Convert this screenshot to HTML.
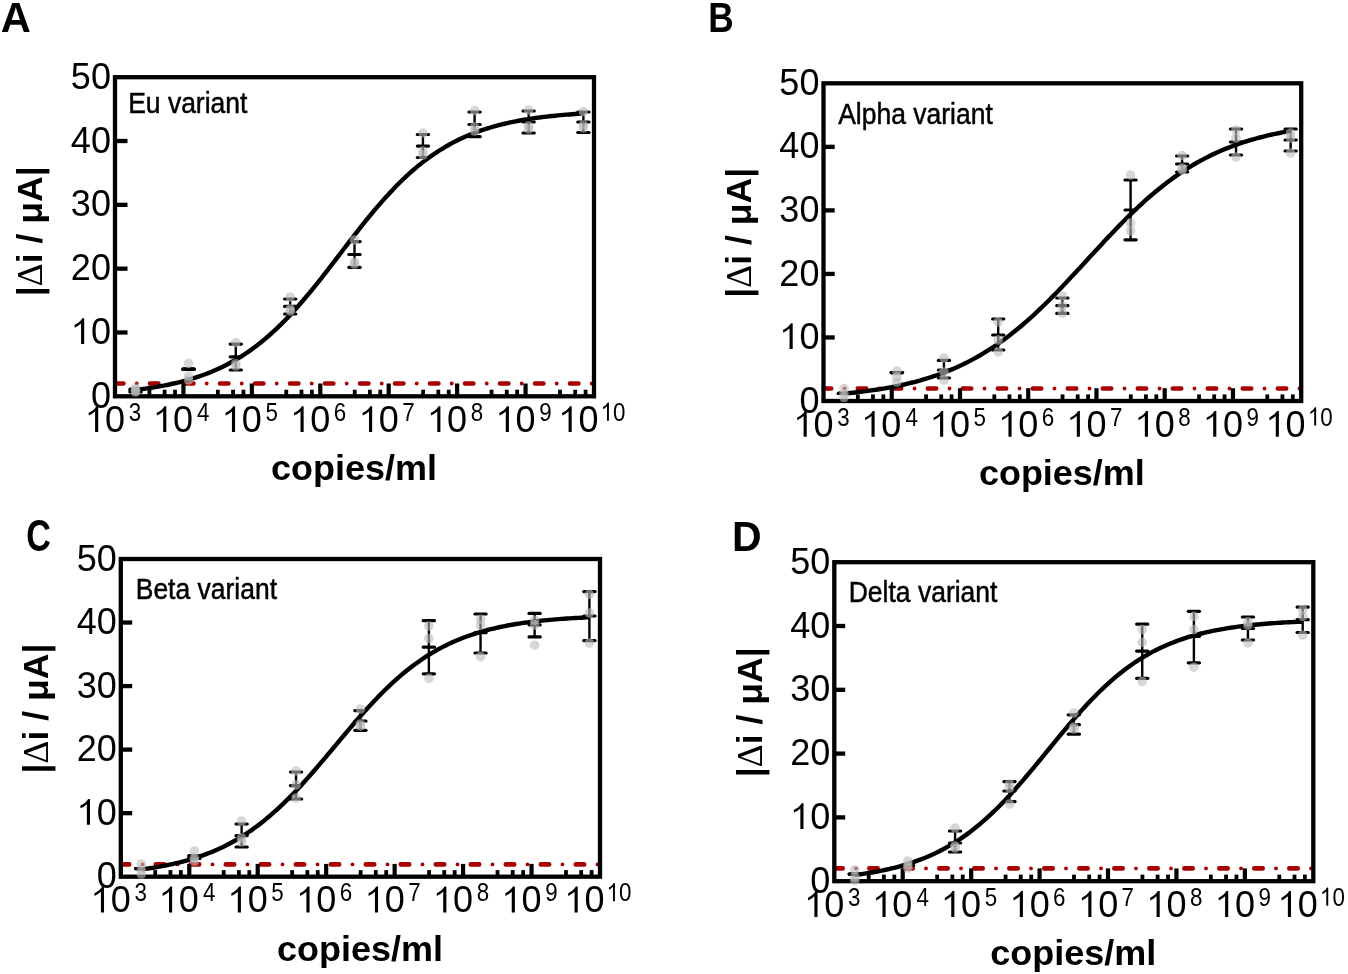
<!DOCTYPE html>
<html><head><meta charset="utf-8"><style>
html,body{margin:0;padding:0;background:#fff;}
svg{display:block;}
text{font-family:"Liberation Sans",sans-serif;fill:#000;filter:grayscale(1);}
</style></head><body>
<svg width="1348" height="974" viewBox="0 0 1348 974">
<rect width="1348" height="974" fill="#fff"/>
<g><line x1="116.00" y1="383.5" x2="593.00" y2="383.5" stroke="#a80000" stroke-width="4.6" stroke-linecap="round" stroke-dasharray="8.4 26.6" stroke-dashoffset="1"/>
<line x1="116.00" y1="383.5" x2="593.00" y2="383.5" stroke="#a80000" stroke-width="3.9" stroke-linecap="round" stroke-dasharray="0 35" stroke-dashoffset="14.3"/>
<line x1="115.00" y1="332.48" x2="127.50" y2="332.48" stroke="#000" stroke-width="4.3"/>
<line x1="115.00" y1="268.66" x2="127.50" y2="268.66" stroke="#000" stroke-width="4.3"/>
<line x1="115.00" y1="204.84" x2="127.50" y2="204.84" stroke="#000" stroke-width="4.3"/>
<line x1="115.00" y1="141.02" x2="127.50" y2="141.02" stroke="#000" stroke-width="4.3"/>
<line x1="149.42" y1="396.30" x2="149.42" y2="389.70" stroke="#000" stroke-width="3.8"/>
<line x1="164.61" y1="396.30" x2="164.61" y2="389.70" stroke="#000" stroke-width="3.8"/>
<line x1="175.01" y1="396.30" x2="175.01" y2="389.70" stroke="#000" stroke-width="3.8"/>
<line x1="217.85" y1="396.30" x2="217.85" y2="389.70" stroke="#000" stroke-width="3.8"/>
<line x1="233.04" y1="396.30" x2="233.04" y2="389.70" stroke="#000" stroke-width="3.8"/>
<line x1="243.44" y1="396.30" x2="243.44" y2="389.70" stroke="#000" stroke-width="3.8"/>
<line x1="183.43" y1="396.30" x2="183.43" y2="383.50" stroke="#000" stroke-width="4.2"/>
<line x1="286.28" y1="396.30" x2="286.28" y2="389.70" stroke="#000" stroke-width="3.8"/>
<line x1="301.47" y1="396.30" x2="301.47" y2="389.70" stroke="#000" stroke-width="3.8"/>
<line x1="311.87" y1="396.30" x2="311.87" y2="389.70" stroke="#000" stroke-width="3.8"/>
<line x1="251.86" y1="396.30" x2="251.86" y2="383.50" stroke="#000" stroke-width="4.2"/>
<line x1="354.71" y1="396.30" x2="354.71" y2="389.70" stroke="#000" stroke-width="3.8"/>
<line x1="369.90" y1="396.30" x2="369.90" y2="389.70" stroke="#000" stroke-width="3.8"/>
<line x1="380.30" y1="396.30" x2="380.30" y2="389.70" stroke="#000" stroke-width="3.8"/>
<line x1="320.29" y1="396.30" x2="320.29" y2="383.50" stroke="#000" stroke-width="4.2"/>
<line x1="423.13" y1="396.30" x2="423.13" y2="389.70" stroke="#000" stroke-width="3.8"/>
<line x1="438.32" y1="396.30" x2="438.32" y2="389.70" stroke="#000" stroke-width="3.8"/>
<line x1="448.73" y1="396.30" x2="448.73" y2="389.70" stroke="#000" stroke-width="3.8"/>
<line x1="388.71" y1="396.30" x2="388.71" y2="383.50" stroke="#000" stroke-width="4.2"/>
<line x1="491.56" y1="396.30" x2="491.56" y2="389.70" stroke="#000" stroke-width="3.8"/>
<line x1="506.75" y1="396.30" x2="506.75" y2="389.70" stroke="#000" stroke-width="3.8"/>
<line x1="517.15" y1="396.30" x2="517.15" y2="389.70" stroke="#000" stroke-width="3.8"/>
<line x1="457.14" y1="396.30" x2="457.14" y2="383.50" stroke="#000" stroke-width="4.2"/>
<line x1="559.99" y1="396.30" x2="559.99" y2="389.70" stroke="#000" stroke-width="3.8"/>
<line x1="575.18" y1="396.30" x2="575.18" y2="389.70" stroke="#000" stroke-width="3.8"/>
<line x1="585.58" y1="396.30" x2="585.58" y2="389.70" stroke="#000" stroke-width="3.8"/>
<line x1="525.57" y1="396.30" x2="525.57" y2="383.50" stroke="#000" stroke-width="4.2"/>
<rect x="115.00" y="77.20" width="479.00" height="319.10" fill="none" stroke="#000" stroke-width="4.3"/>
<line x1="135.53" y1="389" x2="135.53" y2="392" stroke="#000" stroke-width="2.4"/>
<line x1="129.93" y1="389" x2="141.13" y2="389" stroke="#000" stroke-width="3.2" stroke-linecap="round"/>
<line x1="129.93" y1="390.5" x2="141.13" y2="390.5" stroke="#000" stroke-width="3.2" stroke-linecap="round"/>
<line x1="129.93" y1="392" x2="141.13" y2="392" stroke="#000" stroke-width="3.2" stroke-linecap="round"/>
<line x1="188.56" y1="369.2" x2="188.56" y2="369.2" stroke="#000" stroke-width="2.4"/>
<line x1="182.96" y1="369.2" x2="194.16" y2="369.2" stroke="#000" stroke-width="3.2" stroke-linecap="round"/>
<line x1="182.96" y1="369.2" x2="194.16" y2="369.2" stroke="#000" stroke-width="3.2" stroke-linecap="round"/>
<line x1="182.96" y1="369.2" x2="194.16" y2="369.2" stroke="#000" stroke-width="3.2" stroke-linecap="round"/>
<line x1="235.78" y1="344.1" x2="235.78" y2="370" stroke="#000" stroke-width="2.4"/>
<line x1="230.18" y1="344.1" x2="241.38" y2="344.1" stroke="#000" stroke-width="3.2" stroke-linecap="round"/>
<line x1="230.18" y1="356.8" x2="241.38" y2="356.8" stroke="#000" stroke-width="3.2" stroke-linecap="round"/>
<line x1="230.18" y1="370" x2="241.38" y2="370" stroke="#000" stroke-width="3.2" stroke-linecap="round"/>
<line x1="290.18" y1="299" x2="290.18" y2="314" stroke="#000" stroke-width="2.4"/>
<line x1="284.58" y1="299" x2="295.78" y2="299" stroke="#000" stroke-width="3.2" stroke-linecap="round"/>
<line x1="284.58" y1="306.4" x2="295.78" y2="306.4" stroke="#000" stroke-width="3.2" stroke-linecap="round"/>
<line x1="284.58" y1="314" x2="295.78" y2="314" stroke="#000" stroke-width="3.2" stroke-linecap="round"/>
<line x1="354.50" y1="241.6" x2="354.50" y2="267.4" stroke="#000" stroke-width="2.4"/>
<line x1="348.90" y1="241.6" x2="360.10" y2="241.6" stroke="#000" stroke-width="3.2" stroke-linecap="round"/>
<line x1="348.90" y1="254.5" x2="360.10" y2="254.5" stroke="#000" stroke-width="3.2" stroke-linecap="round"/>
<line x1="348.90" y1="267.4" x2="360.10" y2="267.4" stroke="#000" stroke-width="3.2" stroke-linecap="round"/>
<line x1="422.93" y1="134.5" x2="422.93" y2="157.5" stroke="#000" stroke-width="2.4"/>
<line x1="417.33" y1="134.5" x2="428.53" y2="134.5" stroke="#000" stroke-width="3.2" stroke-linecap="round"/>
<line x1="417.33" y1="146.1" x2="428.53" y2="146.1" stroke="#000" stroke-width="3.2" stroke-linecap="round"/>
<line x1="417.33" y1="157.5" x2="428.53" y2="157.5" stroke="#000" stroke-width="3.2" stroke-linecap="round"/>
<line x1="474.59" y1="112" x2="474.59" y2="136.7" stroke="#000" stroke-width="2.4"/>
<line x1="468.99" y1="112" x2="480.19" y2="112" stroke="#000" stroke-width="3.2" stroke-linecap="round"/>
<line x1="468.99" y1="124.5" x2="480.19" y2="124.5" stroke="#000" stroke-width="3.2" stroke-linecap="round"/>
<line x1="468.99" y1="136.7" x2="480.19" y2="136.7" stroke="#000" stroke-width="3.2" stroke-linecap="round"/>
<line x1="528.65" y1="111" x2="528.65" y2="133" stroke="#000" stroke-width="2.4"/>
<line x1="523.05" y1="111" x2="534.25" y2="111" stroke="#000" stroke-width="3.2" stroke-linecap="round"/>
<line x1="523.05" y1="122" x2="534.25" y2="122" stroke="#000" stroke-width="3.2" stroke-linecap="round"/>
<line x1="523.05" y1="133" x2="534.25" y2="133" stroke="#000" stroke-width="3.2" stroke-linecap="round"/>
<line x1="583.39" y1="112" x2="583.39" y2="132.5" stroke="#000" stroke-width="2.4"/>
<line x1="577.79" y1="112" x2="588.99" y2="112" stroke="#000" stroke-width="3.2" stroke-linecap="round"/>
<line x1="577.79" y1="122" x2="588.99" y2="122" stroke="#000" stroke-width="3.2" stroke-linecap="round"/>
<line x1="577.79" y1="132.5" x2="588.99" y2="132.5" stroke="#000" stroke-width="3.2" stroke-linecap="round"/>
<path d="M135.53,389.89 L138.35,389.55 L141.16,389.19 L143.98,388.82 L146.80,388.42 L149.61,388.01 L152.43,387.58 L155.25,387.12 L158.06,386.64 L160.88,386.14 L163.70,385.62 L166.51,385.07 L169.33,384.49 L172.15,383.88 L174.96,383.25 L177.78,382.58 L180.60,381.89 L183.41,381.16 L186.23,380.39 L189.05,379.59 L191.86,378.76 L194.68,377.88 L197.50,376.96 L200.31,376.01 L203.13,375.01 L205.95,373.96 L208.76,372.87 L211.58,371.73 L214.40,370.54 L217.21,369.30 L220.03,368.00 L222.85,366.65 L225.66,365.25 L228.48,363.79 L231.30,362.27 L234.12,360.68 L236.93,359.04 L239.75,357.33 L242.57,355.56 L245.38,353.72 L248.20,351.81 L251.02,349.83 L253.83,347.79 L256.65,345.67 L259.47,343.48 L262.28,341.22 L265.10,338.88 L267.92,336.48 L270.73,334.00 L273.55,331.44 L276.37,328.82 L279.18,326.12 L282.00,323.35 L284.82,320.51 L287.63,317.60 L290.45,314.62 L293.27,311.58 L296.08,308.47 L298.90,305.30 L301.72,302.07 L304.53,298.78 L307.35,295.44 L310.17,292.04 L312.98,288.60 L315.80,285.12 L318.62,281.59 L321.43,278.03 L324.25,274.44 L327.07,270.82 L329.89,267.17 L332.70,263.51 L335.52,259.84 L338.34,256.15 L341.15,252.47 L343.97,248.78 L346.79,245.10 L349.60,241.43 L352.42,237.78 L355.24,234.14 L358.05,230.54 L360.87,226.96 L363.69,223.41 L366.50,219.90 L369.32,216.44 L372.14,213.02 L374.95,209.65 L377.77,206.33 L380.59,203.07 L383.40,199.87 L386.22,196.72 L389.04,193.64 L391.85,190.63 L394.67,187.68 L397.49,184.81 L400.30,182.00 L403.12,179.26 L405.94,176.60 L408.75,174.00 L411.57,171.49 L414.39,169.04 L417.20,166.67 L420.02,164.37 L422.84,162.14 L425.65,159.98 L428.47,157.90 L431.29,155.88 L434.11,153.94 L436.92,152.06 L439.74,150.25 L442.56,148.51 L445.37,146.83 L448.19,145.22 L451.01,143.66 L453.82,142.17 L456.64,140.73 L459.46,139.35 L462.27,138.03 L465.09,136.76 L467.91,135.55 L470.72,134.38 L473.54,133.26 L476.36,132.19 L479.17,131.17 L481.99,130.19 L484.81,129.25 L487.62,128.35 L490.44,127.49 L493.26,126.67 L496.07,125.89 L498.89,125.14 L501.71,124.43 L504.52,123.74 L507.34,123.09 L510.16,122.47 L512.97,121.88 L515.79,121.31 L518.61,120.78 L521.42,120.26 L524.24,119.77 L527.06,119.31 L529.88,118.86 L532.69,118.44 L535.51,118.03 L538.33,117.65 L541.14,117.28 L543.96,116.93 L546.78,116.60 L549.59,116.29 L552.41,115.98 L555.23,115.70 L558.04,115.43 L560.86,115.17 L563.68,114.92 L566.49,114.68 L569.31,114.46 L572.13,114.25 L574.94,114.05 L577.76,113.85 L580.58,113.67 L583.39,113.50" fill="none" stroke="#000" stroke-width="4.4" stroke-linejoin="round"/>
<circle cx="135.53" cy="388" r="4.8" fill="#bcbcbc" fill-opacity="0.6"/>
<circle cx="135.53" cy="390.5" r="4.8" fill="#bcbcbc" fill-opacity="0.6"/>
<circle cx="135.53" cy="392" r="4.8" fill="#bcbcbc" fill-opacity="0.6"/>
<circle cx="188.56" cy="363.4" r="4.8" fill="#bcbcbc" fill-opacity="0.6"/>
<circle cx="188.56" cy="376" r="4.8" fill="#bcbcbc" fill-opacity="0.6"/>
<circle cx="188.56" cy="380" r="4.8" fill="#bcbcbc" fill-opacity="0.6"/>
<circle cx="235.78" cy="342.5" r="4.8" fill="#bcbcbc" fill-opacity="0.6"/>
<circle cx="235.78" cy="363.7" r="4.8" fill="#bcbcbc" fill-opacity="0.6"/>
<circle cx="235.78" cy="366" r="4.8" fill="#bcbcbc" fill-opacity="0.6"/>
<circle cx="290.18" cy="297" r="4.8" fill="#bcbcbc" fill-opacity="0.6"/>
<circle cx="290.18" cy="311" r="4.8" fill="#bcbcbc" fill-opacity="0.6"/>
<circle cx="290.18" cy="309" r="4.8" fill="#bcbcbc" fill-opacity="0.6"/>
<circle cx="354.50" cy="240" r="4.8" fill="#bcbcbc" fill-opacity="0.6"/>
<circle cx="354.50" cy="262" r="4.8" fill="#bcbcbc" fill-opacity="0.6"/>
<circle cx="354.50" cy="264" r="4.8" fill="#bcbcbc" fill-opacity="0.6"/>
<circle cx="422.93" cy="133" r="4.8" fill="#bcbcbc" fill-opacity="0.6"/>
<circle cx="422.93" cy="151" r="4.8" fill="#bcbcbc" fill-opacity="0.6"/>
<circle cx="422.93" cy="155" r="4.8" fill="#bcbcbc" fill-opacity="0.6"/>
<circle cx="474.59" cy="110.5" r="4.8" fill="#bcbcbc" fill-opacity="0.6"/>
<circle cx="474.59" cy="127" r="4.8" fill="#bcbcbc" fill-opacity="0.6"/>
<circle cx="474.59" cy="131" r="4.8" fill="#bcbcbc" fill-opacity="0.6"/>
<circle cx="528.65" cy="110" r="4.8" fill="#bcbcbc" fill-opacity="0.6"/>
<circle cx="528.65" cy="126" r="4.8" fill="#bcbcbc" fill-opacity="0.6"/>
<circle cx="528.65" cy="129" r="4.8" fill="#bcbcbc" fill-opacity="0.6"/>
<circle cx="583.39" cy="111.5" r="4.8" fill="#bcbcbc" fill-opacity="0.6"/>
<circle cx="583.39" cy="125" r="4.8" fill="#bcbcbc" fill-opacity="0.6"/>
<circle cx="583.39" cy="128" r="4.8" fill="#bcbcbc" fill-opacity="0.6"/>
<text x="90.88" y="407.89" font-size="36">0</text>
<path transform="translate(70.87 344.07) scale(36.000 36.000)" d="M0.370,0 L0.283,0 L0.283,-0.572 Q0.205,-0.500 0.105,-0.455 L0.105,-0.535 Q0.255,-0.605 0.318,-0.716 L0.370,-0.716 Z" fill="#000"/><text x="90.88" y="344.07" font-size="36">0</text>
<text x="70.87" y="280.25" font-size="36">2</text><text x="90.88" y="280.25" font-size="36">0</text>
<text x="70.87" y="216.43" font-size="36">3</text><text x="90.88" y="216.43" font-size="36">0</text>
<text x="70.87" y="152.61" font-size="36">4</text><text x="90.88" y="152.61" font-size="36">0</text>
<text x="70.87" y="88.79" font-size="36">5</text><text x="90.88" y="88.79" font-size="36">0</text>
<path transform="translate(84.90 432.00) scale(36.000 36.000)" d="M0.370,0 L0.283,0 L0.283,-0.572 Q0.205,-0.500 0.105,-0.455 L0.105,-0.535 Q0.255,-0.605 0.318,-0.716 L0.370,-0.716 Z" fill="#000"/><text x="104.91" y="432.00" font-size="36">0</text>
<text transform="translate(128.68 420.80) scale(0.88 1)" x="0" y="0" font-size="25.4">3</text>
<path transform="translate(152.99 432.00) scale(36.000 36.000)" d="M0.370,0 L0.283,0 L0.283,-0.572 Q0.205,-0.500 0.105,-0.455 L0.105,-0.535 Q0.255,-0.605 0.318,-0.716 L0.370,-0.716 Z" fill="#000"/><text x="173.01" y="432.00" font-size="36">0</text>
<text transform="translate(197.11 420.80) scale(0.88 1)" x="0" y="0" font-size="25.4">4</text>
<path transform="translate(221.75 432.00) scale(36.000 36.000)" d="M0.370,0 L0.283,0 L0.283,-0.572 Q0.205,-0.500 0.105,-0.455 L0.105,-0.535 Q0.255,-0.605 0.318,-0.716 L0.370,-0.716 Z" fill="#000"/><text x="241.77" y="432.00" font-size="36">0</text>
<text transform="translate(265.49 420.80) scale(0.88 1)" x="0" y="0" font-size="25.4">5</text>
<path transform="translate(290.32 432.00) scale(36.000 36.000)" d="M0.370,0 L0.283,0 L0.283,-0.572 Q0.205,-0.500 0.105,-0.455 L0.105,-0.535 Q0.255,-0.605 0.318,-0.716 L0.370,-0.716 Z" fill="#000"/><text x="310.34" y="432.00" font-size="36">0</text>
<text transform="translate(333.82 420.80) scale(0.88 1)" x="0" y="0" font-size="25.4">6</text>
<path transform="translate(358.83 432.00) scale(36.000 36.000)" d="M0.370,0 L0.283,0 L0.283,-0.572 Q0.205,-0.500 0.105,-0.455 L0.105,-0.535 Q0.255,-0.605 0.318,-0.716 L0.370,-0.716 Z" fill="#000"/><text x="378.84" y="432.00" font-size="36">0</text>
<text transform="translate(402.31 420.80) scale(0.88 1)" x="0" y="0" font-size="25.4">7</text>
<path transform="translate(427.09 432.00) scale(36.000 36.000)" d="M0.370,0 L0.283,0 L0.283,-0.572 Q0.205,-0.500 0.105,-0.455 L0.105,-0.535 Q0.255,-0.605 0.318,-0.716 L0.370,-0.716 Z" fill="#000"/><text x="447.11" y="432.00" font-size="36">0</text>
<text transform="translate(470.75 420.80) scale(0.88 1)" x="0" y="0" font-size="25.4">8</text>
<path transform="translate(495.60 432.00) scale(36.000 36.000)" d="M0.370,0 L0.283,0 L0.283,-0.572 Q0.205,-0.500 0.105,-0.455 L0.105,-0.535 Q0.255,-0.605 0.318,-0.716 L0.370,-0.716 Z" fill="#000"/><text x="515.62" y="432.00" font-size="36">0</text>
<text transform="translate(539.19 420.80) scale(0.88 1)" x="0" y="0" font-size="25.4">9</text>
<path transform="translate(558.38 432.00) scale(36.000 36.000)" d="M0.370,0 L0.283,0 L0.283,-0.572 Q0.205,-0.500 0.105,-0.455 L0.105,-0.535 Q0.255,-0.605 0.318,-0.716 L0.370,-0.716 Z" fill="#000"/><text x="578.39" y="432.00" font-size="36">0</text>
<path transform="translate(600.66 420.80) scale(22.352 25.400)" d="M0.370,0 L0.283,0 L0.283,-0.572 Q0.205,-0.500 0.105,-0.455 L0.105,-0.535 Q0.255,-0.605 0.318,-0.716 L0.370,-0.716 Z" fill="#000"/><text transform="translate(613.09 420.80) scale(0.88 1)" x="0" y="0" font-size="25.4">0</text>
<text transform="translate(271.04 480.20) scale(1 0.96)" x="0" y="0" font-size="36" font-weight="bold">copies/ml</text>
<text transform="translate(0.76 31.50) scale(0.9937 1.0105)" x="0" y="0" font-size="42" font-weight="bold">A</text>
<text x="128.13" y="0" font-size="26.5" stroke="#000" stroke-width="0.45" transform="translate(0 113.2) scale(1 1.11)">Eu variant</text>
<text transform="translate(42.30 231.25) rotate(-90)" x="0" y="0" font-size="35.6" font-weight="bold" text-anchor="middle">|<tspan font-weight="normal" font-family="Liberation Serif">Δ</tspan>i / μA|</text></g>
<g><line x1="824.50" y1="388.5" x2="1300.20" y2="388.5" stroke="#a80000" stroke-width="4.6" stroke-linecap="round" stroke-dasharray="8.4 26.6" stroke-dashoffset="1.7"/>
<line x1="824.50" y1="388.5" x2="1300.20" y2="388.5" stroke="#a80000" stroke-width="3.9" stroke-linecap="round" stroke-dasharray="0 35" stroke-dashoffset="15.0"/>
<line x1="823.50" y1="337.46" x2="834.70" y2="337.46" stroke="#000" stroke-width="4.3"/>
<line x1="823.50" y1="273.92" x2="834.70" y2="273.92" stroke="#000" stroke-width="4.3"/>
<line x1="823.50" y1="210.38" x2="834.70" y2="210.38" stroke="#000" stroke-width="4.3"/>
<line x1="823.50" y1="146.84" x2="834.70" y2="146.84" stroke="#000" stroke-width="4.3"/>
<line x1="857.83" y1="401.00" x2="857.83" y2="394.40" stroke="#000" stroke-width="3.8"/>
<line x1="872.98" y1="401.00" x2="872.98" y2="394.40" stroke="#000" stroke-width="3.8"/>
<line x1="883.35" y1="401.00" x2="883.35" y2="394.40" stroke="#000" stroke-width="3.8"/>
<line x1="926.07" y1="401.00" x2="926.07" y2="394.40" stroke="#000" stroke-width="3.8"/>
<line x1="941.22" y1="401.00" x2="941.22" y2="394.40" stroke="#000" stroke-width="3.8"/>
<line x1="951.59" y1="401.00" x2="951.59" y2="394.40" stroke="#000" stroke-width="3.8"/>
<line x1="891.74" y1="401.00" x2="891.74" y2="388.20" stroke="#000" stroke-width="4.2"/>
<line x1="994.31" y1="401.00" x2="994.31" y2="394.40" stroke="#000" stroke-width="3.8"/>
<line x1="1009.46" y1="401.00" x2="1009.46" y2="394.40" stroke="#000" stroke-width="3.8"/>
<line x1="1019.83" y1="401.00" x2="1019.83" y2="394.40" stroke="#000" stroke-width="3.8"/>
<line x1="959.99" y1="401.00" x2="959.99" y2="388.20" stroke="#000" stroke-width="4.2"/>
<line x1="1062.55" y1="401.00" x2="1062.55" y2="394.40" stroke="#000" stroke-width="3.8"/>
<line x1="1077.70" y1="401.00" x2="1077.70" y2="394.40" stroke="#000" stroke-width="3.8"/>
<line x1="1088.08" y1="401.00" x2="1088.08" y2="394.40" stroke="#000" stroke-width="3.8"/>
<line x1="1028.23" y1="401.00" x2="1028.23" y2="388.20" stroke="#000" stroke-width="4.2"/>
<line x1="1130.80" y1="401.00" x2="1130.80" y2="394.40" stroke="#000" stroke-width="3.8"/>
<line x1="1145.95" y1="401.00" x2="1145.95" y2="394.40" stroke="#000" stroke-width="3.8"/>
<line x1="1156.32" y1="401.00" x2="1156.32" y2="394.40" stroke="#000" stroke-width="3.8"/>
<line x1="1096.47" y1="401.00" x2="1096.47" y2="388.20" stroke="#000" stroke-width="4.2"/>
<line x1="1199.04" y1="401.00" x2="1199.04" y2="394.40" stroke="#000" stroke-width="3.8"/>
<line x1="1214.19" y1="401.00" x2="1214.19" y2="394.40" stroke="#000" stroke-width="3.8"/>
<line x1="1224.56" y1="401.00" x2="1224.56" y2="394.40" stroke="#000" stroke-width="3.8"/>
<line x1="1164.71" y1="401.00" x2="1164.71" y2="388.20" stroke="#000" stroke-width="4.2"/>
<line x1="1267.28" y1="401.00" x2="1267.28" y2="394.40" stroke="#000" stroke-width="3.8"/>
<line x1="1282.43" y1="401.00" x2="1282.43" y2="394.40" stroke="#000" stroke-width="3.8"/>
<line x1="1292.81" y1="401.00" x2="1292.81" y2="394.40" stroke="#000" stroke-width="3.8"/>
<line x1="1232.96" y1="401.00" x2="1232.96" y2="388.20" stroke="#000" stroke-width="4.2"/>
<rect x="823.50" y="83.30" width="477.70" height="317.70" fill="none" stroke="#000" stroke-width="4.3"/>
<line x1="843.97" y1="393.4" x2="843.97" y2="393.4" stroke="#000" stroke-width="2.4"/>
<line x1="838.37" y1="393.4" x2="849.57" y2="393.4" stroke="#000" stroke-width="3.2" stroke-linecap="round"/>
<line x1="838.37" y1="393.4" x2="849.57" y2="393.4" stroke="#000" stroke-width="3.2" stroke-linecap="round"/>
<line x1="838.37" y1="393.4" x2="849.57" y2="393.4" stroke="#000" stroke-width="3.2" stroke-linecap="round"/>
<line x1="896.86" y1="372.6" x2="896.86" y2="372.6" stroke="#000" stroke-width="2.4"/>
<line x1="891.26" y1="372.6" x2="902.46" y2="372.6" stroke="#000" stroke-width="3.2" stroke-linecap="round"/>
<line x1="891.26" y1="372.6" x2="902.46" y2="372.6" stroke="#000" stroke-width="3.2" stroke-linecap="round"/>
<line x1="891.26" y1="372.6" x2="902.46" y2="372.6" stroke="#000" stroke-width="3.2" stroke-linecap="round"/>
<line x1="943.95" y1="360.4" x2="943.95" y2="378" stroke="#000" stroke-width="2.4"/>
<line x1="938.35" y1="360.4" x2="949.55" y2="360.4" stroke="#000" stroke-width="3.2" stroke-linecap="round"/>
<line x1="938.35" y1="370" x2="949.55" y2="370" stroke="#000" stroke-width="3.2" stroke-linecap="round"/>
<line x1="938.35" y1="378" x2="949.55" y2="378" stroke="#000" stroke-width="3.2" stroke-linecap="round"/>
<line x1="998.20" y1="319" x2="998.20" y2="350" stroke="#000" stroke-width="2.4"/>
<line x1="992.60" y1="319" x2="1003.80" y2="319" stroke="#000" stroke-width="3.2" stroke-linecap="round"/>
<line x1="992.60" y1="335" x2="1003.80" y2="335" stroke="#000" stroke-width="3.2" stroke-linecap="round"/>
<line x1="992.60" y1="350" x2="1003.80" y2="350" stroke="#000" stroke-width="3.2" stroke-linecap="round"/>
<line x1="1062.35" y1="298" x2="1062.35" y2="313.4" stroke="#000" stroke-width="2.4"/>
<line x1="1056.75" y1="298" x2="1067.95" y2="298" stroke="#000" stroke-width="3.2" stroke-linecap="round"/>
<line x1="1056.75" y1="305.6" x2="1067.95" y2="305.6" stroke="#000" stroke-width="3.2" stroke-linecap="round"/>
<line x1="1056.75" y1="313.4" x2="1067.95" y2="313.4" stroke="#000" stroke-width="3.2" stroke-linecap="round"/>
<line x1="1130.59" y1="180" x2="1130.59" y2="239.8" stroke="#000" stroke-width="2.4"/>
<line x1="1124.99" y1="180" x2="1136.19" y2="180" stroke="#000" stroke-width="3.2" stroke-linecap="round"/>
<line x1="1124.99" y1="210" x2="1136.19" y2="210" stroke="#000" stroke-width="3.2" stroke-linecap="round"/>
<line x1="1124.99" y1="239.8" x2="1136.19" y2="239.8" stroke="#000" stroke-width="3.2" stroke-linecap="round"/>
<line x1="1182.12" y1="156" x2="1182.12" y2="172" stroke="#000" stroke-width="2.4"/>
<line x1="1176.52" y1="156" x2="1187.72" y2="156" stroke="#000" stroke-width="3.2" stroke-linecap="round"/>
<line x1="1176.52" y1="164" x2="1187.72" y2="164" stroke="#000" stroke-width="3.2" stroke-linecap="round"/>
<line x1="1176.52" y1="172" x2="1187.72" y2="172" stroke="#000" stroke-width="3.2" stroke-linecap="round"/>
<line x1="1236.03" y1="129" x2="1236.03" y2="155" stroke="#000" stroke-width="2.4"/>
<line x1="1230.43" y1="129" x2="1241.63" y2="129" stroke="#000" stroke-width="3.2" stroke-linecap="round"/>
<line x1="1230.43" y1="142" x2="1241.63" y2="142" stroke="#000" stroke-width="3.2" stroke-linecap="round"/>
<line x1="1230.43" y1="155" x2="1241.63" y2="155" stroke="#000" stroke-width="3.2" stroke-linecap="round"/>
<line x1="1290.62" y1="129" x2="1290.62" y2="151" stroke="#000" stroke-width="2.4"/>
<line x1="1285.02" y1="129" x2="1296.22" y2="129" stroke="#000" stroke-width="3.2" stroke-linecap="round"/>
<line x1="1285.02" y1="140" x2="1296.22" y2="140" stroke="#000" stroke-width="3.2" stroke-linecap="round"/>
<line x1="1285.02" y1="151" x2="1296.22" y2="151" stroke="#000" stroke-width="3.2" stroke-linecap="round"/>
<path d="M843.97,393.60 L846.78,393.33 L849.59,393.05 L852.40,392.75 L855.21,392.44 L858.02,392.12 L860.83,391.78 L863.64,391.44 L866.45,391.07 L869.25,390.69 L872.06,390.30 L874.87,389.89 L877.68,389.46 L880.49,389.01 L883.30,388.55 L886.11,388.06 L888.92,387.56 L891.73,387.04 L894.54,386.49 L897.35,385.93 L900.16,385.34 L902.96,384.73 L905.77,384.09 L908.58,383.43 L911.39,382.74 L914.20,382.03 L917.01,381.28 L919.82,380.51 L922.63,379.71 L925.44,378.88 L928.25,378.02 L931.06,377.12 L933.86,376.19 L936.67,375.23 L939.48,374.23 L942.29,373.20 L945.10,372.13 L947.91,371.02 L950.72,369.87 L953.53,368.68 L956.34,367.45 L959.15,366.18 L961.96,364.87 L964.76,363.51 L967.57,362.11 L970.38,360.66 L973.19,359.17 L976.00,357.62 L978.81,356.04 L981.62,354.40 L984.43,352.71 L987.24,350.98 L990.05,349.19 L992.86,347.36 L995.67,345.47 L998.47,343.53 L1001.28,341.54 L1004.09,339.50 L1006.90,337.41 L1009.71,335.27 L1012.52,333.07 L1015.33,330.83 L1018.14,328.53 L1020.95,326.19 L1023.76,323.79 L1026.57,321.35 L1029.37,318.86 L1032.18,316.33 L1034.99,313.75 L1037.80,311.12 L1040.61,308.46 L1043.42,305.75 L1046.23,303.00 L1049.04,300.22 L1051.85,297.40 L1054.66,294.55 L1057.47,291.66 L1060.27,288.75 L1063.08,285.81 L1065.89,282.85 L1068.70,279.86 L1071.51,276.86 L1074.32,273.84 L1077.13,270.81 L1079.94,267.76 L1082.75,264.71 L1085.56,261.66 L1088.37,258.60 L1091.18,255.54 L1093.98,252.49 L1096.79,249.44 L1099.60,246.41 L1102.41,243.38 L1105.22,240.37 L1108.03,237.38 L1110.84,234.41 L1113.65,231.47 L1116.46,228.54 L1119.27,225.65 L1122.08,222.79 L1124.88,219.96 L1127.69,217.16 L1130.50,214.41 L1133.31,211.69 L1136.12,209.01 L1138.93,206.37 L1141.74,203.77 L1144.55,201.22 L1147.36,198.72 L1150.17,196.26 L1152.98,193.85 L1155.78,191.49 L1158.59,189.18 L1161.40,186.92 L1164.21,184.71 L1167.02,182.55 L1169.83,180.45 L1172.64,178.39 L1175.45,176.38 L1178.26,174.43 L1181.07,172.53 L1183.88,170.68 L1186.69,168.88 L1189.49,167.12 L1192.30,165.42 L1195.11,163.77 L1197.92,162.17 L1200.73,160.61 L1203.54,159.10 L1206.35,157.64 L1209.16,156.22 L1211.97,154.85 L1214.78,153.52 L1217.59,152.24 L1220.39,151.00 L1223.20,149.80 L1226.01,148.63 L1228.82,147.51 L1231.63,146.43 L1234.44,145.38 L1237.25,144.38 L1240.06,143.40 L1242.87,142.46 L1245.68,141.56 L1248.49,140.69 L1251.29,139.85 L1254.10,139.04 L1256.91,138.25 L1259.72,137.50 L1262.53,136.78 L1265.34,136.08 L1268.15,135.41 L1270.96,134.77 L1273.77,134.15 L1276.58,133.55 L1279.39,132.98 L1282.20,132.43 L1285.00,131.90 L1287.81,131.39 L1290.62,130.90" fill="none" stroke="#000" stroke-width="4.4" stroke-linejoin="round"/>
<circle cx="843.97" cy="388.5" r="4.8" fill="#bcbcbc" fill-opacity="0.6"/>
<circle cx="843.97" cy="394" r="4.8" fill="#bcbcbc" fill-opacity="0.6"/>
<circle cx="843.97" cy="397.5" r="4.8" fill="#bcbcbc" fill-opacity="0.6"/>
<circle cx="896.86" cy="371" r="4.8" fill="#bcbcbc" fill-opacity="0.6"/>
<circle cx="896.86" cy="377" r="4.8" fill="#bcbcbc" fill-opacity="0.6"/>
<circle cx="896.86" cy="382" r="4.8" fill="#bcbcbc" fill-opacity="0.6"/>
<circle cx="943.95" cy="358" r="4.8" fill="#bcbcbc" fill-opacity="0.6"/>
<circle cx="943.95" cy="372" r="4.8" fill="#bcbcbc" fill-opacity="0.6"/>
<circle cx="943.95" cy="380" r="4.8" fill="#bcbcbc" fill-opacity="0.6"/>
<circle cx="998.20" cy="322" r="4.8" fill="#bcbcbc" fill-opacity="0.6"/>
<circle cx="998.20" cy="340" r="4.8" fill="#bcbcbc" fill-opacity="0.6"/>
<circle cx="998.20" cy="352" r="4.8" fill="#bcbcbc" fill-opacity="0.6"/>
<circle cx="1062.35" cy="296" r="4.8" fill="#bcbcbc" fill-opacity="0.6"/>
<circle cx="1062.35" cy="306" r="4.8" fill="#bcbcbc" fill-opacity="0.6"/>
<circle cx="1062.35" cy="313" r="4.8" fill="#bcbcbc" fill-opacity="0.6"/>
<circle cx="1130.59" cy="175" r="4.8" fill="#bcbcbc" fill-opacity="0.6"/>
<circle cx="1130.59" cy="223" r="4.8" fill="#bcbcbc" fill-opacity="0.6"/>
<circle cx="1130.59" cy="231" r="4.8" fill="#bcbcbc" fill-opacity="0.6"/>
<circle cx="1182.12" cy="155.5" r="4.8" fill="#bcbcbc" fill-opacity="0.6"/>
<circle cx="1182.12" cy="168" r="4.8" fill="#bcbcbc" fill-opacity="0.6"/>
<circle cx="1182.12" cy="170" r="4.8" fill="#bcbcbc" fill-opacity="0.6"/>
<circle cx="1236.03" cy="130" r="4.8" fill="#bcbcbc" fill-opacity="0.6"/>
<circle cx="1236.03" cy="138" r="4.8" fill="#bcbcbc" fill-opacity="0.6"/>
<circle cx="1236.03" cy="157" r="4.8" fill="#bcbcbc" fill-opacity="0.6"/>
<circle cx="1290.62" cy="133" r="4.8" fill="#bcbcbc" fill-opacity="0.6"/>
<circle cx="1290.62" cy="138" r="4.8" fill="#bcbcbc" fill-opacity="0.6"/>
<circle cx="1290.62" cy="153" r="4.8" fill="#bcbcbc" fill-opacity="0.6"/>
<text x="799.38" y="412.59" font-size="36">0</text>
<path transform="translate(779.37 349.05) scale(36.000 36.000)" d="M0.370,0 L0.283,0 L0.283,-0.572 Q0.205,-0.500 0.105,-0.455 L0.105,-0.535 Q0.255,-0.605 0.318,-0.716 L0.370,-0.716 Z" fill="#000"/><text x="799.38" y="349.05" font-size="36">0</text>
<text x="779.37" y="285.51" font-size="36">2</text><text x="799.38" y="285.51" font-size="36">0</text>
<text x="779.37" y="221.97" font-size="36">3</text><text x="799.38" y="221.97" font-size="36">0</text>
<text x="779.37" y="158.43" font-size="36">4</text><text x="799.38" y="158.43" font-size="36">0</text>
<text x="779.37" y="94.89" font-size="36">5</text><text x="799.38" y="94.89" font-size="36">0</text>
<path transform="translate(793.40 436.70) scale(36.000 36.000)" d="M0.370,0 L0.283,0 L0.283,-0.572 Q0.205,-0.500 0.105,-0.455 L0.105,-0.535 Q0.255,-0.605 0.318,-0.716 L0.370,-0.716 Z" fill="#000"/><text x="813.41" y="436.70" font-size="36">0</text>
<text transform="translate(837.18 425.50) scale(0.88 1)" x="0" y="0" font-size="25.4">3</text>
<path transform="translate(861.31 436.70) scale(36.000 36.000)" d="M0.370,0 L0.283,0 L0.283,-0.572 Q0.205,-0.500 0.105,-0.455 L0.105,-0.535 Q0.255,-0.605 0.318,-0.716 L0.370,-0.716 Z" fill="#000"/><text x="881.32" y="436.70" font-size="36">0</text>
<text transform="translate(905.42 425.50) scale(0.88 1)" x="0" y="0" font-size="25.4">4</text>
<path transform="translate(929.88 436.70) scale(36.000 36.000)" d="M0.370,0 L0.283,0 L0.283,-0.572 Q0.205,-0.500 0.105,-0.455 L0.105,-0.535 Q0.255,-0.605 0.318,-0.716 L0.370,-0.716 Z" fill="#000"/><text x="949.90" y="436.70" font-size="36">0</text>
<text transform="translate(973.62 425.50) scale(0.88 1)" x="0" y="0" font-size="25.4">5</text>
<path transform="translate(998.27 436.70) scale(36.000 36.000)" d="M0.370,0 L0.283,0 L0.283,-0.572 Q0.205,-0.500 0.105,-0.455 L0.105,-0.535 Q0.255,-0.605 0.318,-0.716 L0.370,-0.716 Z" fill="#000"/><text x="1018.28" y="436.70" font-size="36">0</text>
<text transform="translate(1041.76 425.50) scale(0.88 1)" x="0" y="0" font-size="25.4">6</text>
<path transform="translate(1066.59 436.70) scale(36.000 36.000)" d="M0.370,0 L0.283,0 L0.283,-0.572 Q0.205,-0.500 0.105,-0.455 L0.105,-0.535 Q0.255,-0.605 0.318,-0.716 L0.370,-0.716 Z" fill="#000"/><text x="1086.60" y="436.70" font-size="36">0</text>
<text transform="translate(1110.07 425.50) scale(0.88 1)" x="0" y="0" font-size="25.4">7</text>
<path transform="translate(1134.66 436.70) scale(36.000 36.000)" d="M0.370,0 L0.283,0 L0.283,-0.572 Q0.205,-0.500 0.105,-0.455 L0.105,-0.535 Q0.255,-0.605 0.318,-0.716 L0.370,-0.716 Z" fill="#000"/><text x="1154.68" y="436.70" font-size="36">0</text>
<text transform="translate(1178.32 425.50) scale(0.88 1)" x="0" y="0" font-size="25.4">8</text>
<path transform="translate(1202.99 436.70) scale(36.000 36.000)" d="M0.370,0 L0.283,0 L0.283,-0.572 Q0.205,-0.500 0.105,-0.455 L0.105,-0.535 Q0.255,-0.605 0.318,-0.716 L0.370,-0.716 Z" fill="#000"/><text x="1223.01" y="436.70" font-size="36">0</text>
<text transform="translate(1246.57 425.50) scale(0.88 1)" x="0" y="0" font-size="25.4">9</text>
<path transform="translate(1265.58 436.70) scale(36.000 36.000)" d="M0.370,0 L0.283,0 L0.283,-0.572 Q0.205,-0.500 0.105,-0.455 L0.105,-0.535 Q0.255,-0.605 0.318,-0.716 L0.370,-0.716 Z" fill="#000"/><text x="1285.59" y="436.70" font-size="36">0</text>
<path transform="translate(1307.86 425.50) scale(22.352 25.400)" d="M0.370,0 L0.283,0 L0.283,-0.572 Q0.205,-0.500 0.105,-0.455 L0.105,-0.535 Q0.255,-0.605 0.318,-0.716 L0.370,-0.716 Z" fill="#000"/><text transform="translate(1320.29 425.50) scale(0.88 1)" x="0" y="0" font-size="25.4">0</text>
<text transform="translate(978.89 484.90) scale(1 0.96)" x="0" y="0" font-size="36" font-weight="bold">copies/ml</text>
<text transform="translate(708.24 31.80) scale(0.8394 1.0313)" x="0" y="0" font-size="42" font-weight="bold">B</text>
<text x="838.15" y="0" font-size="26.5" stroke="#000" stroke-width="0.45" transform="translate(0 123.7) scale(1 1.11)">Alpha variant</text>
<text transform="translate(751.30 232.75) rotate(-90)" x="0" y="0" font-size="35.6" font-weight="bold" text-anchor="middle">|<tspan font-weight="normal" font-family="Liberation Serif">Δ</tspan>i / μA|</text></g>
<g><line x1="121.80" y1="864.4" x2="599.00" y2="864.4" stroke="#a80000" stroke-width="4.6" stroke-linecap="round" stroke-dasharray="8.4 26.6" stroke-dashoffset="1"/>
<line x1="121.80" y1="864.4" x2="599.00" y2="864.4" stroke="#a80000" stroke-width="3.9" stroke-linecap="round" stroke-dasharray="0 35" stroke-dashoffset="14.3"/>
<line x1="120.80" y1="813.16" x2="132.20" y2="813.16" stroke="#000" stroke-width="4.3"/>
<line x1="120.80" y1="749.62" x2="132.20" y2="749.62" stroke="#000" stroke-width="4.3"/>
<line x1="120.80" y1="686.08" x2="132.20" y2="686.08" stroke="#000" stroke-width="4.3"/>
<line x1="120.80" y1="622.54" x2="132.20" y2="622.54" stroke="#000" stroke-width="4.3"/>
<line x1="155.23" y1="876.70" x2="155.23" y2="870.10" stroke="#000" stroke-width="3.8"/>
<line x1="170.43" y1="876.70" x2="170.43" y2="870.10" stroke="#000" stroke-width="3.8"/>
<line x1="180.84" y1="876.70" x2="180.84" y2="870.10" stroke="#000" stroke-width="3.8"/>
<line x1="223.69" y1="876.70" x2="223.69" y2="870.10" stroke="#000" stroke-width="3.8"/>
<line x1="238.89" y1="876.70" x2="238.89" y2="870.10" stroke="#000" stroke-width="3.8"/>
<line x1="249.29" y1="876.70" x2="249.29" y2="870.10" stroke="#000" stroke-width="3.8"/>
<line x1="189.26" y1="876.70" x2="189.26" y2="863.90" stroke="#000" stroke-width="4.2"/>
<line x1="292.15" y1="876.70" x2="292.15" y2="870.10" stroke="#000" stroke-width="3.8"/>
<line x1="307.35" y1="876.70" x2="307.35" y2="870.10" stroke="#000" stroke-width="3.8"/>
<line x1="317.75" y1="876.70" x2="317.75" y2="870.10" stroke="#000" stroke-width="3.8"/>
<line x1="257.71" y1="876.70" x2="257.71" y2="863.90" stroke="#000" stroke-width="4.2"/>
<line x1="360.61" y1="876.70" x2="360.61" y2="870.10" stroke="#000" stroke-width="3.8"/>
<line x1="375.80" y1="876.70" x2="375.80" y2="870.10" stroke="#000" stroke-width="3.8"/>
<line x1="386.21" y1="876.70" x2="386.21" y2="870.10" stroke="#000" stroke-width="3.8"/>
<line x1="326.17" y1="876.70" x2="326.17" y2="863.90" stroke="#000" stroke-width="4.2"/>
<line x1="429.06" y1="876.70" x2="429.06" y2="870.10" stroke="#000" stroke-width="3.8"/>
<line x1="444.26" y1="876.70" x2="444.26" y2="870.10" stroke="#000" stroke-width="3.8"/>
<line x1="454.67" y1="876.70" x2="454.67" y2="870.10" stroke="#000" stroke-width="3.8"/>
<line x1="394.63" y1="876.70" x2="394.63" y2="863.90" stroke="#000" stroke-width="4.2"/>
<line x1="497.52" y1="876.70" x2="497.52" y2="870.10" stroke="#000" stroke-width="3.8"/>
<line x1="512.72" y1="876.70" x2="512.72" y2="870.10" stroke="#000" stroke-width="3.8"/>
<line x1="523.12" y1="876.70" x2="523.12" y2="870.10" stroke="#000" stroke-width="3.8"/>
<line x1="463.09" y1="876.70" x2="463.09" y2="863.90" stroke="#000" stroke-width="4.2"/>
<line x1="565.98" y1="876.70" x2="565.98" y2="870.10" stroke="#000" stroke-width="3.8"/>
<line x1="581.17" y1="876.70" x2="581.17" y2="870.10" stroke="#000" stroke-width="3.8"/>
<line x1="591.58" y1="876.70" x2="591.58" y2="870.10" stroke="#000" stroke-width="3.8"/>
<line x1="531.54" y1="876.70" x2="531.54" y2="863.90" stroke="#000" stroke-width="4.2"/>
<rect x="120.80" y="559.00" width="479.20" height="317.70" fill="none" stroke="#000" stroke-width="4.3"/>
<line x1="141.34" y1="868.6" x2="141.34" y2="868.6" stroke="#000" stroke-width="2.4"/>
<line x1="135.74" y1="868.6" x2="146.94" y2="868.6" stroke="#000" stroke-width="3.2" stroke-linecap="round"/>
<line x1="135.74" y1="868.6" x2="146.94" y2="868.6" stroke="#000" stroke-width="3.2" stroke-linecap="round"/>
<line x1="135.74" y1="868.6" x2="146.94" y2="868.6" stroke="#000" stroke-width="3.2" stroke-linecap="round"/>
<line x1="194.39" y1="855.5" x2="194.39" y2="858.5" stroke="#000" stroke-width="2.4"/>
<line x1="188.79" y1="855.5" x2="199.99" y2="855.5" stroke="#000" stroke-width="3.2" stroke-linecap="round"/>
<line x1="188.79" y1="857" x2="199.99" y2="857" stroke="#000" stroke-width="3.2" stroke-linecap="round"/>
<line x1="188.79" y1="858.5" x2="199.99" y2="858.5" stroke="#000" stroke-width="3.2" stroke-linecap="round"/>
<line x1="241.63" y1="824" x2="241.63" y2="847" stroke="#000" stroke-width="2.4"/>
<line x1="236.03" y1="824" x2="247.23" y2="824" stroke="#000" stroke-width="3.2" stroke-linecap="round"/>
<line x1="236.03" y1="835.6" x2="247.23" y2="835.6" stroke="#000" stroke-width="3.2" stroke-linecap="round"/>
<line x1="236.03" y1="847" x2="247.23" y2="847" stroke="#000" stroke-width="3.2" stroke-linecap="round"/>
<line x1="296.05" y1="772" x2="296.05" y2="799" stroke="#000" stroke-width="2.4"/>
<line x1="290.45" y1="772" x2="301.65" y2="772" stroke="#000" stroke-width="3.2" stroke-linecap="round"/>
<line x1="290.45" y1="785.6" x2="301.65" y2="785.6" stroke="#000" stroke-width="3.2" stroke-linecap="round"/>
<line x1="290.45" y1="799" x2="301.65" y2="799" stroke="#000" stroke-width="3.2" stroke-linecap="round"/>
<line x1="360.40" y1="710.6" x2="360.40" y2="730.3" stroke="#000" stroke-width="2.4"/>
<line x1="354.80" y1="710.6" x2="366.00" y2="710.6" stroke="#000" stroke-width="3.2" stroke-linecap="round"/>
<line x1="354.80" y1="721" x2="366.00" y2="721" stroke="#000" stroke-width="3.2" stroke-linecap="round"/>
<line x1="354.80" y1="730.3" x2="366.00" y2="730.3" stroke="#000" stroke-width="3.2" stroke-linecap="round"/>
<line x1="428.86" y1="620.7" x2="428.86" y2="673.8" stroke="#000" stroke-width="2.4"/>
<line x1="423.26" y1="620.7" x2="434.46" y2="620.7" stroke="#000" stroke-width="3.2" stroke-linecap="round"/>
<line x1="423.26" y1="647.2" x2="434.46" y2="647.2" stroke="#000" stroke-width="3.2" stroke-linecap="round"/>
<line x1="423.26" y1="673.8" x2="434.46" y2="673.8" stroke="#000" stroke-width="3.2" stroke-linecap="round"/>
<line x1="480.54" y1="614" x2="480.54" y2="653" stroke="#000" stroke-width="2.4"/>
<line x1="474.94" y1="614" x2="486.14" y2="614" stroke="#000" stroke-width="3.2" stroke-linecap="round"/>
<line x1="474.94" y1="632.7" x2="486.14" y2="632.7" stroke="#000" stroke-width="3.2" stroke-linecap="round"/>
<line x1="474.94" y1="653" x2="486.14" y2="653" stroke="#000" stroke-width="3.2" stroke-linecap="round"/>
<line x1="534.62" y1="613.4" x2="534.62" y2="636.9" stroke="#000" stroke-width="2.4"/>
<line x1="529.02" y1="613.4" x2="540.22" y2="613.4" stroke="#000" stroke-width="3.2" stroke-linecap="round"/>
<line x1="529.02" y1="624.8" x2="540.22" y2="624.8" stroke="#000" stroke-width="3.2" stroke-linecap="round"/>
<line x1="529.02" y1="636.9" x2="540.22" y2="636.9" stroke="#000" stroke-width="3.2" stroke-linecap="round"/>
<line x1="589.39" y1="591.6" x2="589.39" y2="640.6" stroke="#000" stroke-width="2.4"/>
<line x1="583.79" y1="591.6" x2="594.99" y2="591.6" stroke="#000" stroke-width="3.2" stroke-linecap="round"/>
<line x1="583.79" y1="616" x2="594.99" y2="616" stroke="#000" stroke-width="3.2" stroke-linecap="round"/>
<line x1="583.79" y1="640.6" x2="594.99" y2="640.6" stroke="#000" stroke-width="3.2" stroke-linecap="round"/>
<path d="M141.34,869.43 L144.16,869.05 L146.97,868.65 L149.79,868.24 L152.61,867.80 L155.43,867.34 L158.24,866.86 L161.06,866.36 L163.88,865.83 L166.70,865.27 L169.52,864.69 L172.33,864.08 L175.15,863.45 L177.97,862.78 L180.79,862.08 L183.61,861.35 L186.42,860.58 L189.24,859.78 L192.06,858.94 L194.88,858.07 L197.70,857.15 L200.51,856.19 L203.33,855.19 L206.15,854.15 L208.97,853.06 L211.79,851.93 L214.60,850.74 L217.42,849.51 L220.24,848.23 L223.06,846.89 L225.88,845.50 L228.69,844.05 L231.51,842.55 L234.33,840.98 L237.15,839.36 L239.96,837.68 L242.78,835.93 L245.60,834.13 L248.42,832.25 L251.24,830.32 L254.05,828.32 L256.87,826.25 L259.69,824.12 L262.51,821.92 L265.33,819.65 L268.14,817.31 L270.96,814.91 L273.78,812.45 L276.60,809.91 L279.42,807.32 L282.23,804.66 L285.05,801.93 L287.87,799.15 L290.69,796.31 L293.51,793.41 L296.32,790.45 L299.14,787.45 L301.96,784.39 L304.78,781.29 L307.60,778.14 L310.41,774.96 L313.23,771.73 L316.05,768.48 L318.87,765.19 L321.69,761.88 L324.50,758.55 L327.32,755.20 L330.14,751.84 L332.96,748.47 L335.77,745.10 L338.59,741.73 L341.41,738.36 L344.23,735.00 L347.05,731.66 L349.86,728.34 L352.68,725.04 L355.50,721.76 L358.32,718.52 L361.14,715.31 L363.95,712.14 L366.77,709.01 L369.59,705.93 L372.41,702.89 L375.23,699.90 L378.04,696.97 L380.86,694.10 L383.68,691.28 L386.50,688.52 L389.32,685.82 L392.13,683.19 L394.95,680.62 L397.77,678.11 L400.59,675.67 L403.41,673.30 L406.22,670.99 L409.04,668.75 L411.86,666.58 L414.68,664.47 L417.49,662.43 L420.31,660.45 L423.13,658.54 L425.95,656.70 L428.77,654.92 L431.58,653.20 L434.40,651.54 L437.22,649.94 L440.04,648.40 L442.86,646.92 L445.67,645.50 L448.49,644.13 L451.31,642.81 L454.13,641.55 L456.95,640.34 L459.76,639.17 L462.58,638.06 L465.40,636.99 L468.22,635.96 L471.04,634.98 L473.85,634.04 L476.67,633.14 L479.49,632.28 L482.31,631.46 L485.13,630.67 L487.94,629.92 L490.76,629.20 L493.58,628.52 L496.40,627.86 L499.22,627.23 L502.03,626.64 L504.85,626.07 L507.67,625.52 L510.49,625.01 L513.30,624.51 L516.12,624.04 L518.94,623.59 L521.76,623.16 L524.58,622.75 L527.39,622.36 L530.21,621.99 L533.03,621.64 L535.85,621.30 L538.67,620.98 L541.48,620.68 L544.30,620.39 L547.12,620.11 L549.94,619.85 L552.76,619.60 L555.57,619.36 L558.39,619.13 L561.21,618.92 L564.03,618.71 L566.85,618.52 L569.66,618.33 L572.48,618.16 L575.30,617.99 L578.12,617.83 L580.94,617.68 L583.75,617.53 L586.57,617.40 L589.39,617.27" fill="none" stroke="#000" stroke-width="4.4" stroke-linejoin="round"/>
<circle cx="141.34" cy="864" r="4.8" fill="#bcbcbc" fill-opacity="0.6"/>
<circle cx="141.34" cy="870" r="4.8" fill="#bcbcbc" fill-opacity="0.6"/>
<circle cx="141.34" cy="874" r="4.8" fill="#bcbcbc" fill-opacity="0.6"/>
<circle cx="194.39" cy="851" r="4.8" fill="#bcbcbc" fill-opacity="0.6"/>
<circle cx="194.39" cy="858" r="4.8" fill="#bcbcbc" fill-opacity="0.6"/>
<circle cx="194.39" cy="861" r="4.8" fill="#bcbcbc" fill-opacity="0.6"/>
<circle cx="241.63" cy="821" r="4.8" fill="#bcbcbc" fill-opacity="0.6"/>
<circle cx="241.63" cy="842" r="4.8" fill="#bcbcbc" fill-opacity="0.6"/>
<circle cx="241.63" cy="838" r="4.8" fill="#bcbcbc" fill-opacity="0.6"/>
<circle cx="296.05" cy="771" r="4.8" fill="#bcbcbc" fill-opacity="0.6"/>
<circle cx="296.05" cy="785" r="4.8" fill="#bcbcbc" fill-opacity="0.6"/>
<circle cx="296.05" cy="798" r="4.8" fill="#bcbcbc" fill-opacity="0.6"/>
<circle cx="360.40" cy="709" r="4.8" fill="#bcbcbc" fill-opacity="0.6"/>
<circle cx="360.40" cy="724" r="4.8" fill="#bcbcbc" fill-opacity="0.6"/>
<circle cx="360.40" cy="726" r="4.8" fill="#bcbcbc" fill-opacity="0.6"/>
<circle cx="428.86" cy="626" r="4.8" fill="#bcbcbc" fill-opacity="0.6"/>
<circle cx="428.86" cy="638.5" r="4.8" fill="#bcbcbc" fill-opacity="0.6"/>
<circle cx="428.86" cy="678.4" r="4.8" fill="#bcbcbc" fill-opacity="0.6"/>
<circle cx="480.54" cy="619.2" r="4.8" fill="#bcbcbc" fill-opacity="0.6"/>
<circle cx="480.54" cy="625.4" r="4.8" fill="#bcbcbc" fill-opacity="0.6"/>
<circle cx="480.54" cy="656.6" r="4.8" fill="#bcbcbc" fill-opacity="0.6"/>
<circle cx="534.62" cy="620.2" r="4.8" fill="#bcbcbc" fill-opacity="0.6"/>
<circle cx="534.62" cy="625" r="4.8" fill="#bcbcbc" fill-opacity="0.6"/>
<circle cx="534.62" cy="645.2" r="4.8" fill="#bcbcbc" fill-opacity="0.6"/>
<circle cx="589.39" cy="594.3" r="4.8" fill="#bcbcbc" fill-opacity="0.6"/>
<circle cx="589.39" cy="613" r="4.8" fill="#bcbcbc" fill-opacity="0.6"/>
<circle cx="589.39" cy="643" r="4.8" fill="#bcbcbc" fill-opacity="0.6"/>
<text x="96.68" y="888.29" font-size="36">0</text>
<path transform="translate(76.67 824.75) scale(36.000 36.000)" d="M0.370,0 L0.283,0 L0.283,-0.572 Q0.205,-0.500 0.105,-0.455 L0.105,-0.535 Q0.255,-0.605 0.318,-0.716 L0.370,-0.716 Z" fill="#000"/><text x="96.68" y="824.75" font-size="36">0</text>
<text x="76.67" y="761.21" font-size="36">2</text><text x="96.68" y="761.21" font-size="36">0</text>
<text x="76.67" y="697.67" font-size="36">3</text><text x="96.68" y="697.67" font-size="36">0</text>
<text x="76.67" y="634.13" font-size="36">4</text><text x="96.68" y="634.13" font-size="36">0</text>
<text x="76.67" y="570.59" font-size="36">5</text><text x="96.68" y="570.59" font-size="36">0</text>
<path transform="translate(90.70 912.40) scale(36.000 36.000)" d="M0.370,0 L0.283,0 L0.283,-0.572 Q0.205,-0.500 0.105,-0.455 L0.105,-0.535 Q0.255,-0.605 0.318,-0.716 L0.370,-0.716 Z" fill="#000"/><text x="110.71" y="912.40" font-size="36">0</text>
<text transform="translate(134.48 901.20) scale(0.88 1)" x="0" y="0" font-size="25.4">3</text>
<path transform="translate(158.82 912.40) scale(36.000 36.000)" d="M0.370,0 L0.283,0 L0.283,-0.572 Q0.205,-0.500 0.105,-0.455 L0.105,-0.535 Q0.255,-0.605 0.318,-0.716 L0.370,-0.716 Z" fill="#000"/><text x="178.84" y="912.40" font-size="36">0</text>
<text transform="translate(202.94 901.20) scale(0.88 1)" x="0" y="0" font-size="25.4">4</text>
<path transform="translate(227.61 912.40) scale(36.000 36.000)" d="M0.370,0 L0.283,0 L0.283,-0.572 Q0.205,-0.500 0.105,-0.455 L0.105,-0.535 Q0.255,-0.605 0.318,-0.716 L0.370,-0.716 Z" fill="#000"/><text x="247.63" y="912.40" font-size="36">0</text>
<text transform="translate(271.35 901.20) scale(0.88 1)" x="0" y="0" font-size="25.4">5</text>
<path transform="translate(296.21 912.40) scale(36.000 36.000)" d="M0.370,0 L0.283,0 L0.283,-0.572 Q0.205,-0.500 0.105,-0.455 L0.105,-0.535 Q0.255,-0.605 0.318,-0.716 L0.370,-0.716 Z" fill="#000"/><text x="316.22" y="912.40" font-size="36">0</text>
<text transform="translate(339.71 901.20) scale(0.88 1)" x="0" y="0" font-size="25.4">6</text>
<path transform="translate(364.74 912.40) scale(36.000 36.000)" d="M0.370,0 L0.283,0 L0.283,-0.572 Q0.205,-0.500 0.105,-0.455 L0.105,-0.535 Q0.255,-0.605 0.318,-0.716 L0.370,-0.716 Z" fill="#000"/><text x="384.76" y="912.40" font-size="36">0</text>
<text transform="translate(408.23 901.20) scale(0.88 1)" x="0" y="0" font-size="25.4">7</text>
<path transform="translate(433.04 912.40) scale(36.000 36.000)" d="M0.370,0 L0.283,0 L0.283,-0.572 Q0.205,-0.500 0.105,-0.455 L0.105,-0.535 Q0.255,-0.605 0.318,-0.716 L0.370,-0.716 Z" fill="#000"/><text x="453.05" y="912.40" font-size="36">0</text>
<text transform="translate(476.70 901.20) scale(0.88 1)" x="0" y="0" font-size="25.4">8</text>
<path transform="translate(501.57 912.40) scale(36.000 36.000)" d="M0.370,0 L0.283,0 L0.283,-0.572 Q0.205,-0.500 0.105,-0.455 L0.105,-0.535 Q0.255,-0.605 0.318,-0.716 L0.370,-0.716 Z" fill="#000"/><text x="521.59" y="912.40" font-size="36">0</text>
<text transform="translate(545.16 901.20) scale(0.88 1)" x="0" y="0" font-size="25.4">9</text>
<path transform="translate(564.38 912.40) scale(36.000 36.000)" d="M0.370,0 L0.283,0 L0.283,-0.572 Q0.205,-0.500 0.105,-0.455 L0.105,-0.535 Q0.255,-0.605 0.318,-0.716 L0.370,-0.716 Z" fill="#000"/><text x="584.39" y="912.40" font-size="36">0</text>
<path transform="translate(606.66 901.20) scale(22.352 25.400)" d="M0.370,0 L0.283,0 L0.283,-0.572 Q0.205,-0.500 0.105,-0.455 L0.105,-0.535 Q0.255,-0.605 0.318,-0.716 L0.370,-0.716 Z" fill="#000"/><text transform="translate(619.09 901.20) scale(0.88 1)" x="0" y="0" font-size="25.4">0</text>
<text transform="translate(276.94 960.60) scale(1 0.96)" x="0" y="0" font-size="36" font-weight="bold">copies/ml</text>
<text transform="translate(26.20 550.87) scale(0.8121 1.0442)" x="0" y="0" font-size="42" font-weight="bold">C</text>
<text x="135.73" y="0" font-size="26.5" stroke="#000" stroke-width="0.45" transform="translate(0 599.1) scale(1 1.11)">Beta variant</text>
<text transform="translate(48.10 708.55) rotate(-90)" x="0" y="0" font-size="35.6" font-weight="bold" text-anchor="middle">|<tspan font-weight="normal" font-family="Liberation Serif">Δ</tspan>i / μA|</text></g>
<g><line x1="835.30" y1="868.4" x2="1312.30" y2="868.4" stroke="#a80000" stroke-width="4.6" stroke-linecap="round" stroke-dasharray="8.4 26.6" stroke-dashoffset="1"/>
<line x1="835.30" y1="868.4" x2="1312.30" y2="868.4" stroke="#a80000" stroke-width="3.9" stroke-linecap="round" stroke-dasharray="0 35" stroke-dashoffset="14.3"/>
<line x1="834.30" y1="817.40" x2="845.20" y2="817.40" stroke="#000" stroke-width="4.3"/>
<line x1="834.30" y1="753.60" x2="845.20" y2="753.60" stroke="#000" stroke-width="4.3"/>
<line x1="834.30" y1="689.80" x2="845.20" y2="689.80" stroke="#000" stroke-width="4.3"/>
<line x1="834.30" y1="626.00" x2="845.20" y2="626.00" stroke="#000" stroke-width="4.3"/>
<line x1="868.72" y1="881.20" x2="868.72" y2="874.60" stroke="#000" stroke-width="3.8"/>
<line x1="883.91" y1="881.20" x2="883.91" y2="874.60" stroke="#000" stroke-width="3.8"/>
<line x1="894.31" y1="881.20" x2="894.31" y2="874.60" stroke="#000" stroke-width="3.8"/>
<line x1="937.15" y1="881.20" x2="937.15" y2="874.60" stroke="#000" stroke-width="3.8"/>
<line x1="952.34" y1="881.20" x2="952.34" y2="874.60" stroke="#000" stroke-width="3.8"/>
<line x1="962.74" y1="881.20" x2="962.74" y2="874.60" stroke="#000" stroke-width="3.8"/>
<line x1="902.73" y1="881.20" x2="902.73" y2="868.40" stroke="#000" stroke-width="4.2"/>
<line x1="1005.58" y1="881.20" x2="1005.58" y2="874.60" stroke="#000" stroke-width="3.8"/>
<line x1="1020.77" y1="881.20" x2="1020.77" y2="874.60" stroke="#000" stroke-width="3.8"/>
<line x1="1031.17" y1="881.20" x2="1031.17" y2="874.60" stroke="#000" stroke-width="3.8"/>
<line x1="971.16" y1="881.20" x2="971.16" y2="868.40" stroke="#000" stroke-width="4.2"/>
<line x1="1074.01" y1="881.20" x2="1074.01" y2="874.60" stroke="#000" stroke-width="3.8"/>
<line x1="1089.20" y1="881.20" x2="1089.20" y2="874.60" stroke="#000" stroke-width="3.8"/>
<line x1="1099.60" y1="881.20" x2="1099.60" y2="874.60" stroke="#000" stroke-width="3.8"/>
<line x1="1039.59" y1="881.20" x2="1039.59" y2="868.40" stroke="#000" stroke-width="4.2"/>
<line x1="1142.43" y1="881.20" x2="1142.43" y2="874.60" stroke="#000" stroke-width="3.8"/>
<line x1="1157.62" y1="881.20" x2="1157.62" y2="874.60" stroke="#000" stroke-width="3.8"/>
<line x1="1168.03" y1="881.20" x2="1168.03" y2="874.60" stroke="#000" stroke-width="3.8"/>
<line x1="1108.01" y1="881.20" x2="1108.01" y2="868.40" stroke="#000" stroke-width="4.2"/>
<line x1="1210.86" y1="881.20" x2="1210.86" y2="874.60" stroke="#000" stroke-width="3.8"/>
<line x1="1226.05" y1="881.20" x2="1226.05" y2="874.60" stroke="#000" stroke-width="3.8"/>
<line x1="1236.45" y1="881.20" x2="1236.45" y2="874.60" stroke="#000" stroke-width="3.8"/>
<line x1="1176.44" y1="881.20" x2="1176.44" y2="868.40" stroke="#000" stroke-width="4.2"/>
<line x1="1279.29" y1="881.20" x2="1279.29" y2="874.60" stroke="#000" stroke-width="3.8"/>
<line x1="1294.48" y1="881.20" x2="1294.48" y2="874.60" stroke="#000" stroke-width="3.8"/>
<line x1="1304.88" y1="881.20" x2="1304.88" y2="874.60" stroke="#000" stroke-width="3.8"/>
<line x1="1244.87" y1="881.20" x2="1244.87" y2="868.40" stroke="#000" stroke-width="4.2"/>
<rect x="834.30" y="562.20" width="479.00" height="319.00" fill="none" stroke="#000" stroke-width="4.3"/>
<line x1="854.83" y1="874.1" x2="854.83" y2="874.1" stroke="#000" stroke-width="2.4"/>
<line x1="849.23" y1="874.1" x2="860.43" y2="874.1" stroke="#000" stroke-width="3.2" stroke-linecap="round"/>
<line x1="849.23" y1="874.1" x2="860.43" y2="874.1" stroke="#000" stroke-width="3.2" stroke-linecap="round"/>
<line x1="849.23" y1="874.1" x2="860.43" y2="874.1" stroke="#000" stroke-width="3.2" stroke-linecap="round"/>
<line x1="907.86" y1="865.5" x2="907.86" y2="865.5" stroke="#000" stroke-width="2.4"/>
<line x1="902.26" y1="865.5" x2="913.46" y2="865.5" stroke="#000" stroke-width="3.2" stroke-linecap="round"/>
<line x1="902.26" y1="865.5" x2="913.46" y2="865.5" stroke="#000" stroke-width="3.2" stroke-linecap="round"/>
<line x1="902.26" y1="865.5" x2="913.46" y2="865.5" stroke="#000" stroke-width="3.2" stroke-linecap="round"/>
<line x1="955.08" y1="831" x2="955.08" y2="852" stroke="#000" stroke-width="2.4"/>
<line x1="949.48" y1="831" x2="960.68" y2="831" stroke="#000" stroke-width="3.2" stroke-linecap="round"/>
<line x1="949.48" y1="843" x2="960.68" y2="843" stroke="#000" stroke-width="3.2" stroke-linecap="round"/>
<line x1="949.48" y1="852" x2="960.68" y2="852" stroke="#000" stroke-width="3.2" stroke-linecap="round"/>
<line x1="1009.48" y1="781.6" x2="1009.48" y2="801.6" stroke="#000" stroke-width="2.4"/>
<line x1="1003.88" y1="781.6" x2="1015.08" y2="781.6" stroke="#000" stroke-width="3.2" stroke-linecap="round"/>
<line x1="1003.88" y1="791" x2="1015.08" y2="791" stroke="#000" stroke-width="3.2" stroke-linecap="round"/>
<line x1="1003.88" y1="801.6" x2="1015.08" y2="801.6" stroke="#000" stroke-width="3.2" stroke-linecap="round"/>
<line x1="1073.80" y1="714.8" x2="1073.80" y2="734.2" stroke="#000" stroke-width="2.4"/>
<line x1="1068.20" y1="714.8" x2="1079.40" y2="714.8" stroke="#000" stroke-width="3.2" stroke-linecap="round"/>
<line x1="1068.20" y1="724.7" x2="1079.40" y2="724.7" stroke="#000" stroke-width="3.2" stroke-linecap="round"/>
<line x1="1068.20" y1="734.2" x2="1079.40" y2="734.2" stroke="#000" stroke-width="3.2" stroke-linecap="round"/>
<line x1="1142.23" y1="624.1" x2="1142.23" y2="678.3" stroke="#000" stroke-width="2.4"/>
<line x1="1136.63" y1="624.1" x2="1147.83" y2="624.1" stroke="#000" stroke-width="3.2" stroke-linecap="round"/>
<line x1="1136.63" y1="651.1" x2="1147.83" y2="651.1" stroke="#000" stroke-width="3.2" stroke-linecap="round"/>
<line x1="1136.63" y1="678.3" x2="1147.83" y2="678.3" stroke="#000" stroke-width="3.2" stroke-linecap="round"/>
<line x1="1193.89" y1="611.3" x2="1193.89" y2="662.8" stroke="#000" stroke-width="2.4"/>
<line x1="1188.29" y1="611.3" x2="1199.49" y2="611.3" stroke="#000" stroke-width="3.2" stroke-linecap="round"/>
<line x1="1188.29" y1="636.3" x2="1199.49" y2="636.3" stroke="#000" stroke-width="3.2" stroke-linecap="round"/>
<line x1="1188.29" y1="662.8" x2="1199.49" y2="662.8" stroke="#000" stroke-width="3.2" stroke-linecap="round"/>
<line x1="1247.95" y1="617" x2="1247.95" y2="640" stroke="#000" stroke-width="2.4"/>
<line x1="1242.35" y1="617" x2="1253.55" y2="617" stroke="#000" stroke-width="3.2" stroke-linecap="round"/>
<line x1="1242.35" y1="628.5" x2="1253.55" y2="628.5" stroke="#000" stroke-width="3.2" stroke-linecap="round"/>
<line x1="1242.35" y1="640" x2="1253.55" y2="640" stroke="#000" stroke-width="3.2" stroke-linecap="round"/>
<line x1="1302.69" y1="607.1" x2="1302.69" y2="632.5" stroke="#000" stroke-width="2.4"/>
<line x1="1297.09" y1="607.1" x2="1308.29" y2="607.1" stroke="#000" stroke-width="3.2" stroke-linecap="round"/>
<line x1="1297.09" y1="619.7" x2="1308.29" y2="619.7" stroke="#000" stroke-width="3.2" stroke-linecap="round"/>
<line x1="1297.09" y1="632.5" x2="1308.29" y2="632.5" stroke="#000" stroke-width="3.2" stroke-linecap="round"/>
<path d="M854.83,874.99 L857.65,874.62 L860.46,874.23 L863.28,873.83 L866.10,873.40 L868.91,872.95 L871.73,872.48 L874.55,871.98 L877.36,871.47 L880.18,870.92 L883.00,870.35 L885.81,869.75 L888.63,869.12 L891.45,868.46 L894.26,867.77 L897.08,867.05 L899.90,866.29 L902.71,865.49 L905.53,864.66 L908.35,863.79 L911.16,862.88 L913.98,861.93 L916.80,860.93 L919.61,859.89 L922.43,858.80 L925.25,857.67 L928.06,856.48 L930.88,855.25 L933.70,853.96 L936.51,852.61 L939.33,851.22 L942.15,849.76 L944.96,848.24 L947.78,846.67 L950.60,845.03 L953.42,843.33 L956.23,841.56 L959.05,839.73 L961.87,837.84 L964.68,835.87 L967.50,833.84 L970.32,831.74 L973.13,829.57 L975.95,827.33 L978.77,825.02 L981.58,822.65 L984.40,820.20 L987.22,817.68 L990.03,815.10 L992.85,812.44 L995.67,809.72 L998.48,806.94 L1001.30,804.09 L1004.12,801.18 L1006.93,798.22 L1009.75,795.19 L1012.57,792.11 L1015.38,788.98 L1018.20,785.80 L1021.02,782.58 L1023.83,779.31 L1026.65,776.01 L1029.47,772.67 L1032.28,769.31 L1035.10,765.91 L1037.92,762.50 L1040.73,759.07 L1043.55,755.63 L1046.37,752.19 L1049.19,748.74 L1052.00,745.29 L1054.82,741.85 L1057.64,738.43 L1060.45,735.02 L1063.27,731.63 L1066.09,728.27 L1068.90,724.93 L1071.72,721.64 L1074.54,718.38 L1077.35,715.16 L1080.17,711.98 L1082.99,708.86 L1085.80,705.79 L1088.62,702.77 L1091.44,699.81 L1094.25,696.91 L1097.07,694.07 L1099.89,691.29 L1102.70,688.58 L1105.52,685.94 L1108.34,683.36 L1111.15,680.85 L1113.97,678.41 L1116.79,676.04 L1119.60,673.74 L1122.42,671.51 L1125.24,669.35 L1128.05,667.26 L1130.87,665.24 L1133.69,663.28 L1136.50,661.39 L1139.32,659.57 L1142.14,657.81 L1144.95,656.12 L1147.77,654.49 L1150.59,652.92 L1153.41,651.42 L1156.22,649.97 L1159.04,648.57 L1161.86,647.24 L1164.67,645.96 L1167.49,644.73 L1170.31,643.55 L1173.12,642.42 L1175.94,641.34 L1178.76,640.30 L1181.57,639.31 L1184.39,638.36 L1187.21,637.46 L1190.02,636.59 L1192.84,635.76 L1195.66,634.97 L1198.47,634.22 L1201.29,633.50 L1204.11,632.81 L1206.92,632.16 L1209.74,631.53 L1212.56,630.94 L1215.37,630.37 L1218.19,629.83 L1221.01,629.31 L1223.82,628.82 L1226.64,628.35 L1229.46,627.91 L1232.27,627.48 L1235.09,627.08 L1237.91,626.69 L1240.72,626.33 L1243.54,625.98 L1246.36,625.65 L1249.18,625.33 L1251.99,625.03 L1254.81,624.75 L1257.63,624.48 L1260.44,624.22 L1263.26,623.98 L1266.08,623.74 L1268.89,623.52 L1271.71,623.31 L1274.53,623.11 L1277.34,622.92 L1280.16,622.74 L1282.98,622.57 L1285.79,622.41 L1288.61,622.25 L1291.43,622.11 L1294.24,621.97 L1297.06,621.83 L1299.88,621.71 L1302.69,621.59" fill="none" stroke="#000" stroke-width="4.4" stroke-linejoin="round"/>
<circle cx="854.83" cy="870" r="4.8" fill="#bcbcbc" fill-opacity="0.6"/>
<circle cx="854.83" cy="877" r="4.8" fill="#bcbcbc" fill-opacity="0.6"/>
<circle cx="854.83" cy="880.5" r="4.8" fill="#bcbcbc" fill-opacity="0.6"/>
<circle cx="907.86" cy="861" r="4.8" fill="#bcbcbc" fill-opacity="0.6"/>
<circle cx="907.86" cy="865" r="4.8" fill="#bcbcbc" fill-opacity="0.6"/>
<circle cx="907.86" cy="868" r="4.8" fill="#bcbcbc" fill-opacity="0.6"/>
<circle cx="955.08" cy="828" r="4.8" fill="#bcbcbc" fill-opacity="0.6"/>
<circle cx="955.08" cy="848" r="4.8" fill="#bcbcbc" fill-opacity="0.6"/>
<circle cx="955.08" cy="846" r="4.8" fill="#bcbcbc" fill-opacity="0.6"/>
<circle cx="1009.48" cy="784" r="4.8" fill="#bcbcbc" fill-opacity="0.6"/>
<circle cx="1009.48" cy="788" r="4.8" fill="#bcbcbc" fill-opacity="0.6"/>
<circle cx="1009.48" cy="804" r="4.8" fill="#bcbcbc" fill-opacity="0.6"/>
<circle cx="1073.80" cy="713" r="4.8" fill="#bcbcbc" fill-opacity="0.6"/>
<circle cx="1073.80" cy="727" r="4.8" fill="#bcbcbc" fill-opacity="0.6"/>
<circle cx="1073.80" cy="729" r="4.8" fill="#bcbcbc" fill-opacity="0.6"/>
<circle cx="1142.23" cy="629.6" r="4.8" fill="#bcbcbc" fill-opacity="0.6"/>
<circle cx="1142.23" cy="642.2" r="4.8" fill="#bcbcbc" fill-opacity="0.6"/>
<circle cx="1142.23" cy="681.6" r="4.8" fill="#bcbcbc" fill-opacity="0.6"/>
<circle cx="1193.89" cy="616.4" r="4.8" fill="#bcbcbc" fill-opacity="0.6"/>
<circle cx="1193.89" cy="629.6" r="4.8" fill="#bcbcbc" fill-opacity="0.6"/>
<circle cx="1193.89" cy="667.2" r="4.8" fill="#bcbcbc" fill-opacity="0.6"/>
<circle cx="1247.95" cy="621.9" r="4.8" fill="#bcbcbc" fill-opacity="0.6"/>
<circle cx="1247.95" cy="625.2" r="4.8" fill="#bcbcbc" fill-opacity="0.6"/>
<circle cx="1247.95" cy="642.9" r="4.8" fill="#bcbcbc" fill-opacity="0.6"/>
<circle cx="1302.69" cy="609.7" r="4.8" fill="#bcbcbc" fill-opacity="0.6"/>
<circle cx="1302.69" cy="616.4" r="4.8" fill="#bcbcbc" fill-opacity="0.6"/>
<circle cx="1302.69" cy="635.2" r="4.8" fill="#bcbcbc" fill-opacity="0.6"/>
<text x="810.18" y="892.79" font-size="36">0</text>
<path transform="translate(790.17 828.99) scale(36.000 36.000)" d="M0.370,0 L0.283,0 L0.283,-0.572 Q0.205,-0.500 0.105,-0.455 L0.105,-0.535 Q0.255,-0.605 0.318,-0.716 L0.370,-0.716 Z" fill="#000"/><text x="810.18" y="828.99" font-size="36">0</text>
<text x="790.17" y="765.19" font-size="36">2</text><text x="810.18" y="765.19" font-size="36">0</text>
<text x="790.17" y="701.39" font-size="36">3</text><text x="810.18" y="701.39" font-size="36">0</text>
<text x="790.17" y="637.59" font-size="36">4</text><text x="810.18" y="637.59" font-size="36">0</text>
<text x="790.17" y="573.79" font-size="36">5</text><text x="810.18" y="573.79" font-size="36">0</text>
<path transform="translate(804.20 916.90) scale(36.000 36.000)" d="M0.370,0 L0.283,0 L0.283,-0.572 Q0.205,-0.500 0.105,-0.455 L0.105,-0.535 Q0.255,-0.605 0.318,-0.716 L0.370,-0.716 Z" fill="#000"/><text x="824.21" y="916.90" font-size="36">0</text>
<text transform="translate(847.98 905.70) scale(0.88 1)" x="0" y="0" font-size="25.4">3</text>
<path transform="translate(872.29 916.90) scale(36.000 36.000)" d="M0.370,0 L0.283,0 L0.283,-0.572 Q0.205,-0.500 0.105,-0.455 L0.105,-0.535 Q0.255,-0.605 0.318,-0.716 L0.370,-0.716 Z" fill="#000"/><text x="892.31" y="916.90" font-size="36">0</text>
<text transform="translate(916.41 905.70) scale(0.88 1)" x="0" y="0" font-size="25.4">4</text>
<path transform="translate(941.05 916.90) scale(36.000 36.000)" d="M0.370,0 L0.283,0 L0.283,-0.572 Q0.205,-0.500 0.105,-0.455 L0.105,-0.535 Q0.255,-0.605 0.318,-0.716 L0.370,-0.716 Z" fill="#000"/><text x="961.07" y="916.90" font-size="36">0</text>
<text transform="translate(984.79 905.70) scale(0.88 1)" x="0" y="0" font-size="25.4">5</text>
<path transform="translate(1009.62 916.90) scale(36.000 36.000)" d="M0.370,0 L0.283,0 L0.283,-0.572 Q0.205,-0.500 0.105,-0.455 L0.105,-0.535 Q0.255,-0.605 0.318,-0.716 L0.370,-0.716 Z" fill="#000"/><text x="1029.64" y="916.90" font-size="36">0</text>
<text transform="translate(1053.12 905.70) scale(0.88 1)" x="0" y="0" font-size="25.4">6</text>
<path transform="translate(1078.13 916.90) scale(36.000 36.000)" d="M0.370,0 L0.283,0 L0.283,-0.572 Q0.205,-0.500 0.105,-0.455 L0.105,-0.535 Q0.255,-0.605 0.318,-0.716 L0.370,-0.716 Z" fill="#000"/><text x="1098.14" y="916.90" font-size="36">0</text>
<text transform="translate(1121.61 905.70) scale(0.88 1)" x="0" y="0" font-size="25.4">7</text>
<path transform="translate(1146.39 916.90) scale(36.000 36.000)" d="M0.370,0 L0.283,0 L0.283,-0.572 Q0.205,-0.500 0.105,-0.455 L0.105,-0.535 Q0.255,-0.605 0.318,-0.716 L0.370,-0.716 Z" fill="#000"/><text x="1166.41" y="916.90" font-size="36">0</text>
<text transform="translate(1190.05 905.70) scale(0.88 1)" x="0" y="0" font-size="25.4">8</text>
<path transform="translate(1214.90 916.90) scale(36.000 36.000)" d="M0.370,0 L0.283,0 L0.283,-0.572 Q0.205,-0.500 0.105,-0.455 L0.105,-0.535 Q0.255,-0.605 0.318,-0.716 L0.370,-0.716 Z" fill="#000"/><text x="1234.92" y="916.90" font-size="36">0</text>
<text transform="translate(1258.49 905.70) scale(0.88 1)" x="0" y="0" font-size="25.4">9</text>
<path transform="translate(1277.68 916.90) scale(36.000 36.000)" d="M0.370,0 L0.283,0 L0.283,-0.572 Q0.205,-0.500 0.105,-0.455 L0.105,-0.535 Q0.255,-0.605 0.318,-0.716 L0.370,-0.716 Z" fill="#000"/><text x="1297.69" y="916.90" font-size="36">0</text>
<path transform="translate(1319.96 905.70) scale(22.352 25.400)" d="M0.370,0 L0.283,0 L0.283,-0.572 Q0.205,-0.500 0.105,-0.455 L0.105,-0.535 Q0.255,-0.605 0.318,-0.716 L0.370,-0.716 Z" fill="#000"/><text transform="translate(1332.39 905.70) scale(0.88 1)" x="0" y="0" font-size="25.4">0</text>
<text transform="translate(990.34 965.10) scale(1 0.96)" x="0" y="0" font-size="36" font-weight="bold">copies/ml</text>
<text transform="translate(731.95 550.60) scale(0.9783 1.0244)" x="0" y="0" font-size="42" font-weight="bold">D</text>
<text x="848.73" y="0" font-size="26.5" stroke="#000" stroke-width="0.45" transform="translate(0 602) scale(1 1.11)">Delta variant</text>
<text transform="translate(761.80 712.25) rotate(-90)" x="0" y="0" font-size="35.6" font-weight="bold" text-anchor="middle">|<tspan font-weight="normal" font-family="Liberation Serif">Δ</tspan>i / μA|</text></g>
</svg></body></html>
